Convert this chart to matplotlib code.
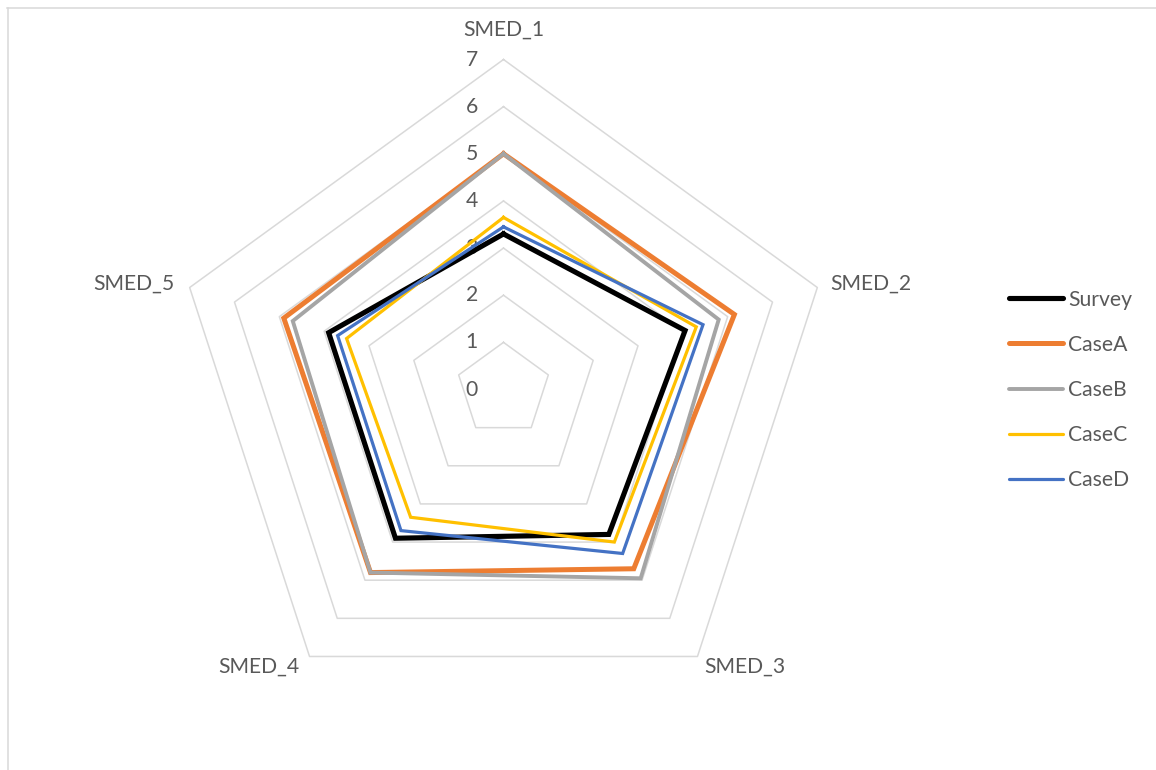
import numpy as np
import matplotlib
matplotlib.use("Agg")
import matplotlib.pyplot as plt
from matplotlib.lines import Line2D

# --- data -------------------------------------------------------------
categories = ["SMED_1", "SMED_2", "SMED_3", "SMED_4", "SMED_5"]
series_names = ["Survey", "CaseA", "CaseB", "CaseC", "CaseD"]
survey = [3.3, 4.05, 3.8, 3.9, 3.9]
case_a = [5.0, 5.15, 4.7, 4.8, 4.9]
case_b = [5.0, 4.8, 4.95, 4.8, 4.7]
case_c = [3.65, 4.3, 4.0, 3.35, 3.5]
case_d = [3.45, 4.45, 4.3, 3.7, 3.7]
r_ticks = [0, 1, 2, 3, 4, 5, 6, 7]

series_values = [survey, case_a, case_b, case_c, case_d]
colors = ["#000000", "#ED7D31", "#A5A5A5", "#FFC000", "#4472C4"]
widths = [3.7, 3.6, 2.8, 2.3, 2.3]

FONT = ["Lato", "DejaVu Sans"]
TEXT_COLOR = "#595959"
GRID_COLOR = "#D9D9D9"
FS = 15.2

W, H, DPI = 1156, 770, 100
fig = plt.figure(figsize=(W / DPI, H / DPI), dpi=DPI)
fig.patch.set_facecolor("white")

# polar axes centred at (503.5, 389.5) px with radius 330 px for r = 7
cx, cy, R = 503.5, 389.5, 330.0
ax = fig.add_axes([(cx - R) / W, (H - cy - R) / H, 2 * R / W, 2 * R / H],
                  projection="polar")
ax.set_theta_offset(np.pi / 2)
ax.set_theta_direction(-1)
ax.set_ylim(0, r_ticks[-1])
ax.grid(False)
ax.spines["polar"].set_visible(False)
ax.set_xticks([])
ax.set_yticks([])
ax.patch.set_alpha(0)

n = len(categories)
theta = np.arange(n) * 2 * np.pi / n
theta_closed = np.append(theta, theta[0])

# pentagonal grid rings
for v in r_ticks[1:]:
    ax.plot(theta_closed, [v] * (n + 1), color=GRID_COLOR, lw=1.1,
            zorder=1, clip_on=False)

# radial value labels along the first axis
for v in r_ticks:
    ax.annotate(str(v), xy=(0, v), xytext=(-18.5, 0),
                textcoords="offset points", ha="right", va="center",
                fontsize=FS, color=TEXT_COLOR, family=FONT,
                annotation_clip=False)

# series
for name, vals, c, lw in zip(series_names, series_values, colors, widths):
    vv = np.append(vals, vals[0])
    ax.plot(theta_closed, vv, color=c, lw=lw, zorder=3,
            solid_joinstyle="miter", clip_on=False, label=name)

# category labels placed just outside the outer ring
cat_offsets = [(0, 21.5, "center", "center"),
               (9, 3, "left", "center"),
               (5, -7.5, "left", "center"),
               (-7, -7.5, "right", "center"),
               (-11, 3, "right", "center")]
for t, lab, (dx, dy, ha, va) in zip(theta, categories, cat_offsets):
    ax.annotate(lab, xy=(t, r_ticks[-1]), xytext=(dx, dy),
                textcoords="offset points", ha=ha, va=va,
                fontsize=FS, color=TEXT_COLOR, family=FONT,
                annotation_clip=False)

# legend
leg_handles = [Line2D([0], [0], color=c, lw=lw, solid_capstyle="round")
               for c, lw in zip(colors, widths)]
leg = fig.legend(leg_handles, series_names, loc="center left",
                 bbox_to_anchor=(998 / W, 1 - 390 / H), frameon=False,
                 prop={"family": FONT, "size": FS}, handlelength=2.6,
                 handletextpad=0.22, labelspacing=1.19, borderpad=0)
for txt in leg.get_texts():
    txt.set_color(TEXT_COLOR)

# chart-area border (top and left edges visible)
fig.add_artist(Line2D([7 / W, 1], [1 - 7.5 / H, 1 - 7.5 / H],
                      transform=fig.transFigure, color=GRID_COLOR, lw=1.1))
fig.add_artist(Line2D([7.5 / W, 7.5 / W], [0, 1 - 7.5 / H],
                      transform=fig.transFigure, color=GRID_COLOR, lw=1.1))

fig.savefig("out.png", dpi=DPI, facecolor="white")
